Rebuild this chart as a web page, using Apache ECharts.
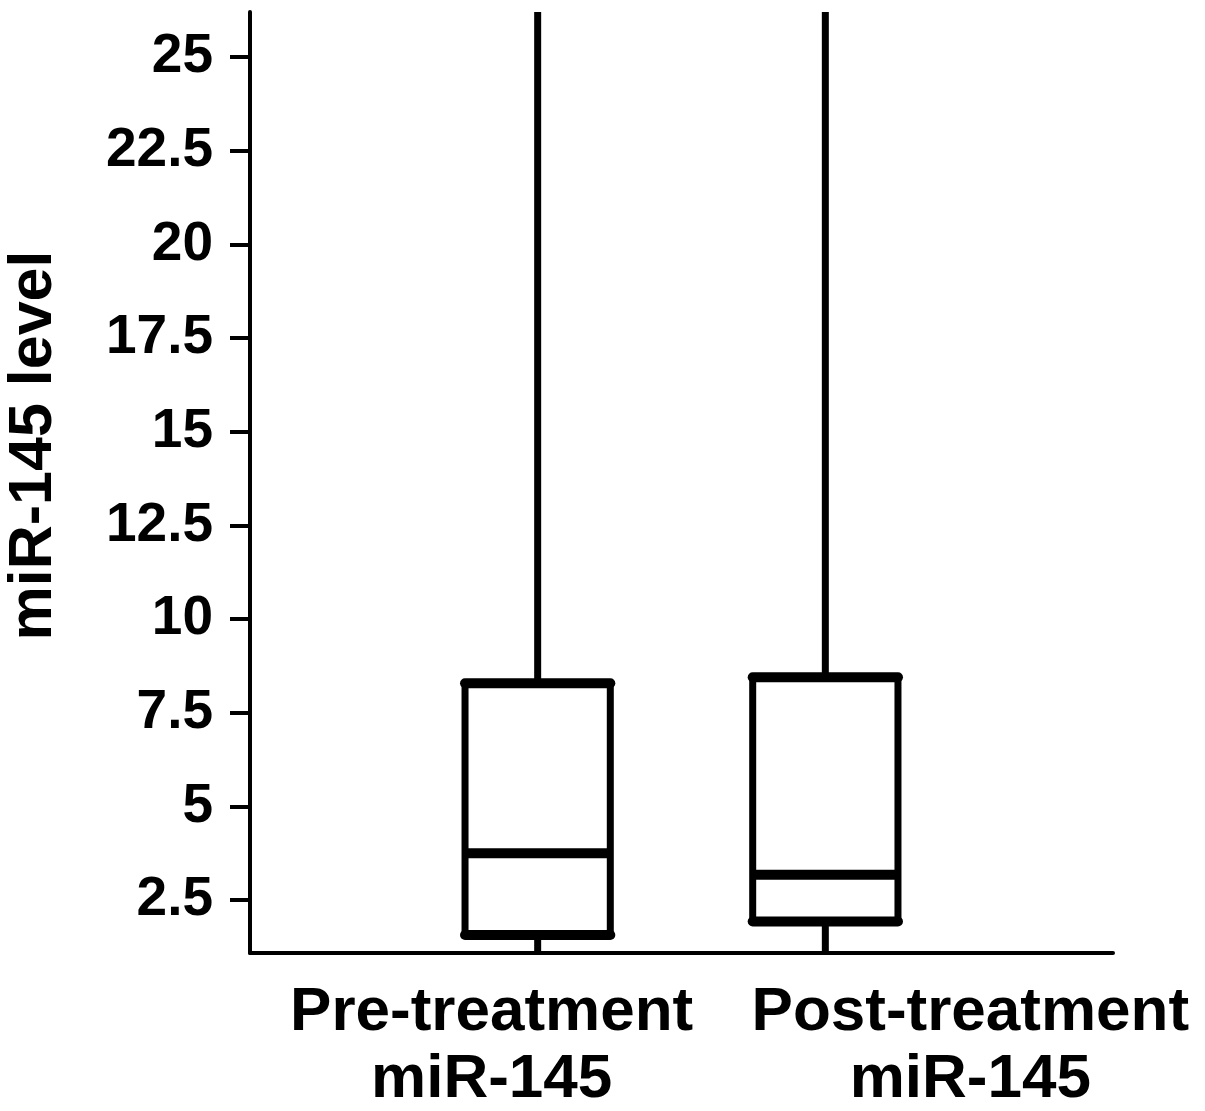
<!DOCTYPE html>
<html><head><meta charset="utf-8">
<script src="https://cdn.jsdelivr.net/npm/echarts@6/dist/echarts.min.js"></script>
<style>html,body{margin:0;padding:0;background:#fff}#c{width:1205px;height:1111px}</style>
</head><body><div id="c"></div>
<script>
const categories = ['Pre-treatment\nmiR-145', 'Post-treatment\nmiR-145'];
const whiskerLow = [1.0, 1.0];
const q1 = [1.57, 1.93];
const median = [3.75, 3.18];
const q3 = [8.29, 8.45];
const whiskerHigh = [26.2, 26.2];
const yTicks = [2.5, 5, 7.5, 10, 12.5, 15, 17.5, 20, 22.5, 25];
const yTitle = 'miR-145 level';

const FONT = '"Liberation Sans", Arial, Helvetica, sans-serif';
const xData = [''].concat(categories, ['']);

const chart = echarts.init(document.getElementById('c'), null, {renderer: 'canvas'});
chart.setOption({
  animation: false,
  backgroundColor: '#fff',
  grid: {left: 250, right: 92, top: 12, bottom: 158, containLabel: false, outerBoundsMode: 'none'},
  xAxis: {
    type: 'category',
    data: xData,
    boundaryGap: false,
    axisLine: {show: true, lineStyle: {color: '#000', width: 4}},
    axisTick: {show: false},
    splitLine: {show: false},
    axisLabel: {
      interval: 0,
      margin: 26,
      formatter: function (v, i) {
        if (!v) return '';
        return (i === 1 ? '{a|' : '{b|') + v + '}';
      },
      rich: {
        a: {fontSize: 62, fontWeight: 'bold', fontFamily: FONT, color: '#000', lineHeight: 67, padding: [0, 92, 0, 0], align: 'center'},
        b: {fontSize: 62, fontWeight: 'bold', fontFamily: FONT, color: '#000', lineHeight: 67, padding: [0, 0, 0, 290], align: 'center'}
      }
    }
  },
  yAxis: {
    type: 'value',
    min: 1.09,
    max: 26.2,
    axisLine: {show: true, lineStyle: {color: '#000', width: 4}},
    axisTick: {show: true, length: 20, customValues: yTicks, lineStyle: {color: '#000', width: 4}},
    axisLabel: {customValues: yTicks, margin: 37, fontSize: 55, fontWeight: 'bold', fontFamily: FONT, color: '#000'},
    splitLine: {show: false},
    name: yTitle,
    nameLocation: 'middle',
    nameGap: 185,
    nameTextStyle: {fontSize: 61, fontWeight: 'bold', fontFamily: FONT, color: '#000', padding: [0, 0, 0, 74]}
  },
  series: [{
    type: 'custom',
    clip: true,
    encode: {x: 0, y: [1, 2, 3, 4, 5]},
    data: categories.map((c, i) => [c, whiskerLow[i], q1[i], median[i], q3[i], whiskerHigh[i]]),
    renderItem: function (params, api) {
      const x = api.value(0);
      const pLow = api.coord([x, api.value(1)]);
      const pQ1 = api.coord([x, api.value(2)]);
      const pMed = api.coord([x, api.value(3)]);
      const pQ3 = api.coord([x, api.value(4)]);
      const pHigh = api.coord([x, api.value(5)]);
      const bw = api.size([1, 0])[0] * 0.505;
      const cx = pMed[0];
      const l = cx - bw / 2, r = cx + bw / 2;
      const stroke = {stroke: '#000', fill: null};
      return {
        type: 'group',
        children: [
          {type: 'line', shape: {x1: cx, y1: pHigh[1], x2: cx, y2: pQ3[1]}, style: Object.assign({lineWidth: 7}, stroke)},
          {type: 'line', shape: {x1: cx, y1: pQ1[1], x2: cx, y2: pLow[1]}, style: Object.assign({lineWidth: 7}, stroke)},
          {type: 'rect', shape: {x: l, y: pQ3[1], width: bw, height: pQ1[1] - pQ3[1]}, style: {stroke: '#000', fill: '#fff', lineWidth: 7, lineJoin: 'round'}},
          {type: 'line', shape: {x1: l, y1: pQ3[1], x2: r, y2: pQ3[1]}, style: Object.assign({lineWidth: 10, lineCap: 'round'}, stroke)},
          {type: 'line', shape: {x1: l, y1: pQ1[1], x2: r, y2: pQ1[1]}, style: Object.assign({lineWidth: 10, lineCap: 'round'}, stroke)},
          {type: 'line', shape: {x1: l, y1: pMed[1], x2: r, y2: pMed[1]}, style: Object.assign({lineWidth: 10}, stroke)}
        ]
      };
    }
  }]
});
</script>
</body></html>
